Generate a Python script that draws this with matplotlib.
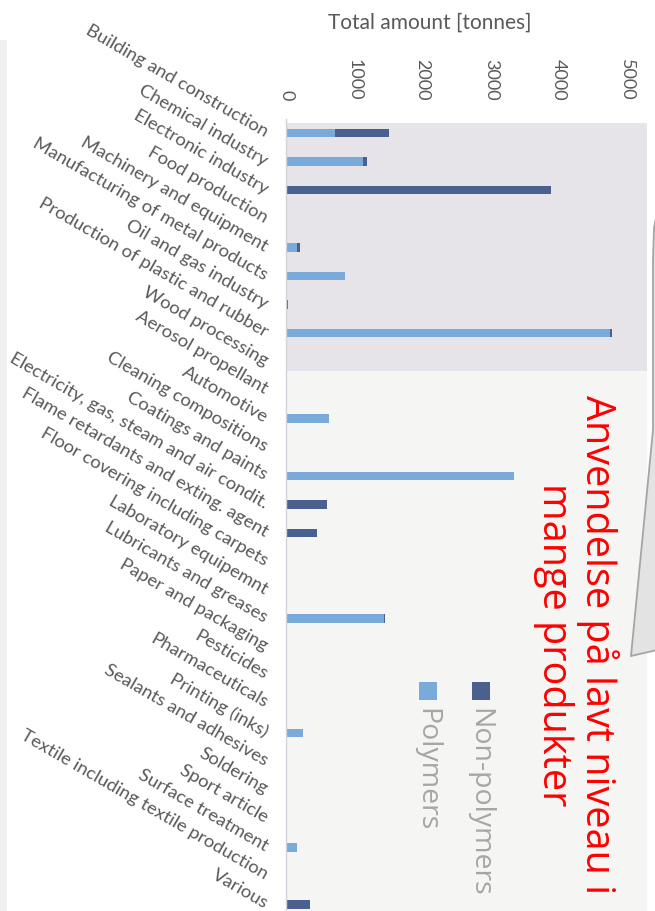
import matplotlib.pyplot as plt
from matplotlib.patches import Polygon, Rectangle

# figure size in pixels (dpi 100)
W, H = 655, 911

categories = [
    "Building and construction", "Chemical industry", "Electronic industry",
    "Food production", "Machinery and equipment", "Manufacturing of metal products",
    "Oil and gas industry", "Production of plastic and rubber", "Wood processing",
    "Aerosol propellant", "Automotive", "Cleaning compositions", "Coatings and paints",
    "Electricity, gas, steam and air condit.", "Flame retardants and exting. agent",
    "Floor covering including carpets", "Laboratory equipemnt", "Lubricants and greases",
    "Paper and packaging", "Pesticides", "Pharmaceuticals", "Printing (inks)",
    "Sealants and adhesives", "Soldering", "Sport article", "Surface treatment",
    "Textile including textile production", "Various",
]
polymers = [720, 1130, 0, 0, 160, 865, 0, 4750, 0, 0, 630, 0, 3340, 0, 0,
            8, 0, 1440, 0, 0, 0, 250, 0, 0, 0, 160, 8, 0]
non_polymers = [790, 60, 3885, 0, 45, 0, 30, 30, 0, 0, 0, 12, 0, 600, 460,
                0, 0, 15, 0, 0, 0, 0, 0, 0, 0, 0, 0, 355]
value_ticks = [0, 1000, 2000, 3000, 4000, 5000]
series_names = ["Non-polymers", "Polymers"]
axis_title = "Total amount [tonnes]"
note = "Anvendelse på lavt niveau i\nmange produkter"

DARK = "#4a6190"
LIGHT = "#7aaad9"
TEXT = "#595959"


def fx(px):
    return px / W


def fy(py):
    return 1 - py / H


fig = plt.figure(figsize=(W / 100, H / 100), dpi=100)
fig.patch.set_facecolor("white")

# thin grey strip at the left edge of the screenshot
fig.patches.append(Rectangle((0, 0), fx(7), fy(40), transform=fig.transFigure,
                             fc="#f0f0f0", ec="none"))

# plot area
row_h = 28.57
top = 133 - row_h / 2
bottom = top + row_h * len(categories)
ax = fig.add_axes([fx(286), fy(bottom), fx(647) - fx(286), (bottom - top) / H])
ax.set_facecolor("white")

rows = list(range(len(categories)))
ax.axhspan(-0.35, 8.33, color="#e6e3e9", zorder=0, lw=0)
ax.axhspan(8.33, len(categories), color="#f5f5f3", zorder=0, lw=0)
ax.barh(rows, polymers, height=0.3, color=LIGHT, zorder=2)
ax.barh(rows, non_polymers, left=polymers, height=0.3, color=DARK, zorder=2)

ax.set_xlim(0, 5290)
ax.set_ylim(len(categories) - 0.5, -0.5)

for s in ["top", "right", "bottom"]:
    ax.spines[s].set_visible(False)
ax.spines["left"].set_color("#d2d2da")
ax.spines["left"].set_linewidth(1)

ax.xaxis.tick_top()
ax.set_xticks(value_ticks)
ax.set_xticklabels([str(v) for v in value_ticks], rotation=-90,
                   fontsize=13, color=TEXT, family="Lato")
ax.tick_params(axis="x", length=0, pad=13)

ax.set_yticks(rows)
ax.set_yticklabels(categories, rotation=-30, fontsize=13.3, color=TEXT,
                   family="Lato", ha="right", va="center")
for lab in ax.get_yticklabels():
    lab.set_rotation_mode("anchor")
ax.tick_params(axis="y", length=0, pad=14)

fig.text(fx(430), fy(23), axis_title, ha="center", va="center",
         fontsize=15, color=TEXT, family="Lato")

# callout shape at the right edge
callout = [(657, 212), (654, 228), (653, 260), (653, 430), (631, 656), (657, 650)]
fig.patches.append(Polygon([(fx(x), fy(y)) for x, y in callout], closed=True,
                           transform=fig.transFigure, fc="#e3e3e3",
                           ec="#a5a5a5", lw=1.3))

fig.text(fx(576), fy(645), note, rotation=-90, ha="center", va="center",
         multialignment="center", color="#ff0000", fontsize=28.5,
         family="Open Sans", linespacing=1.05)

# legend drawn rotated, like the rest of the chart
legend_x = [472, 419]
for name, col, x in zip(series_names, [DARK, LIGHT], legend_x):
    fig.patches.append(Rectangle((fx(x), fy(700)), 18 / W, 18 / H,
                                 transform=fig.transFigure, fc=col, ec="none"))
    fig.text(fx(x), fy(708), name, rotation=-90, rotation_mode="anchor",
             ha="left", va="baseline", fontsize=20.5, color="#a6a6a6",
             family="Open Sans")

fig.savefig("out.png", dpi=100)
